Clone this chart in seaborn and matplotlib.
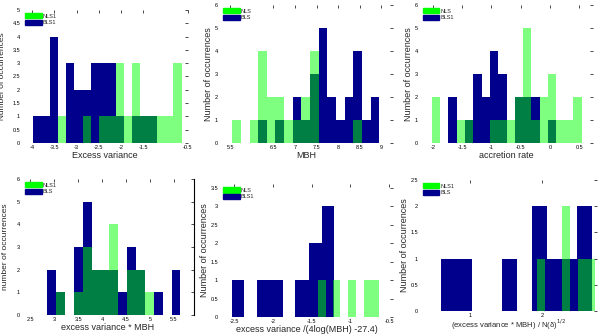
import numpy as np
import pandas as pd
import matplotlib
matplotlib.use("Agg")
import matplotlib.pyplot as plt
import seaborn as sns
from matplotlib.patches import Patch

sns.set_theme(style="white")
plt.rcParams["font.family"] = ["Liberation Sans", "DejaVu Sans"]

NAVY = (0.0, 0.0, 0.55)
GREEN = (0.0, 1.0, 0.0)

# panel 1: excess variance
p1_edges = [-3.97, -3.79, -3.60, -3.42, -3.23, -3.05, -2.86, -2.68, -2.49, -2.31,
            -2.12, -1.94, -1.75, -1.57, -1.38, -1.20, -1.01, -0.83, -0.64]
p1_blue = [1, 1, 4, 0, 3, 2, 2, 3, 3, 3, 1, 0, 1, 1, 1, 0, 0, 0]
p1_green = [0, 0, 0, 1, 0, 0, 1, 0, 1, 1, 3, 1, 3, 1, 1, 1, 1, 3]

# panel 2: MBH
p2_edges = [5.55, 5.75, 5.95, 6.15, 6.35, 6.55, 6.75, 6.95, 7.15, 7.35,
            7.55, 7.75, 7.95, 8.15, 8.35, 8.55, 8.75, 8.95]
p2_blue = [0, 0, 0, 1, 0, 1, 0, 2, 1, 3, 5, 2, 1, 2, 4, 1, 2]
p2_green = [1, 0, 1, 4, 2, 2, 1, 1, 2, 4, 0, 0, 0, 0, 1, 0, 0]

# panel 3: accretion rate
p3_edges = [-2.02, -1.88, -1.74, -1.59, -1.45, -1.31, -1.17, -1.03, -0.88, -0.74,
            -0.60, -0.46, -0.32, -0.17, -0.03, 0.11, 0.25, 0.39, 0.54]
p3_blue = [0, 0, 2, 0, 1, 3, 2, 4, 3, 0, 2, 2, 2, 0, 1, 0, 0, 0]
p3_green = [2, 0, 0, 1, 1, 0, 0, 1, 1, 1, 2, 5, 1, 2, 3, 1, 1, 2]

# panel 4: excess variance * MBH
p4_edges = [2.85, 3.04, 3.22, 3.41, 3.60, 3.78, 3.97, 4.15, 4.34, 4.53,
            4.71, 4.90, 5.08, 5.27, 5.46, 5.64]
p4_blue = [2, 1, 0, 3, 5, 2, 2, 2, 1, 3, 2, 0, 1, 0, 2]
p4_green = [0, 1, 0, 1, 3, 2, 2, 4, 0, 2, 2, 1, 0, 0, 0]

# panel 5: excess variance / (4 log MBH - 27.4)
p5_blue_edges = [-2.53, -2.37, -2.20, -2.04, -1.87, -1.71, -1.54, -1.37, -1.21]
p5_blue = [1, 0, 1, 1, 0, 1, 2, 3]
p5_green_edges = [-1.42, -1.32, -1.22, -1.13, -1.03, -0.93, -0.83, -0.73, -0.63]
p5_green = [1, 0, 1, 0, 1, 0, 1, 1]

# panel 6: (excess variance * MBH) / N^1/2
p6_blue_edges = [0.60, 0.81, 1.02, 1.23, 1.44, 1.65, 1.86, 2.07, 2.28, 2.49, 2.70]
p6_blue = [1, 1, 0, 0, 1, 0, 2, 1, 1, 2]
p6_green_edges = [1.93, 2.05, 2.16, 2.28, 2.40, 2.51, 2.63, 2.74]
p6_green = [1, 0, 0, 2, 0, 1, 1]

panels = [
    dict(pos=[0.037, 0.572, 0.276, 0.398], be=p1_edges, b=p1_blue, ge=p1_edges, g=p1_green,
         xlim=(-4.22, -0.5), ylim=(0, 5), xt=[-4, -3.5, -3, -2.5, -2, -1.5, -0.5],
         yt=np.arange(0, 5.01, 0.5), xl="Excess variance", yl="Number of occurrences",
         leg=("NLS1", "BLS1"), ylx=-0.095, xly=None, ylfs=6),
    dict(pos=[0.367, 0.572, 0.288, 0.413], be=p2_edges, b=p2_blue, ge=p2_edges, g=p2_green,
         xlim=(5.27, 9.27), ylim=(0, 6), xt=[5.5, 6.5, 7, 7.5, 8, 8.5, 9],
         yt=range(7), xl="MBH", yl="Number of occurrences", leg=("NLS", "BLS"),
         ylx=None, xly=None, ylfs=6.5),
    dict(pos=[0.700, 0.572, 0.288, 0.413], be=p3_edges, b=p3_blue, ge=p3_edges, g=p3_green,
         xlim=(-2.22, 0.73), ylim=(0, 6), xt=[-2, -1.5, -1, -0.5, 0, 0.5],
         yt=range(7), xl="accretion rate", yl="Number of occurrences", leg=("NLS", "BLS1"),
         ylx=None, xly=None, ylfs=6.5),
    dict(pos=[0.037, 0.057, 0.286, 0.407], be=p4_edges, b=p4_blue, ge=p4_edges, g=p4_green,
         xlim=(2.33, 5.92), ylim=(0, 6), xt=[2.5, 3, 3.5, 4, 4.5, 5, 5.5],
         yt=range(7), xl="excess variance * MBH", yl="number of occurrences",
         leg=("NLS1", "BLS"), ylx=-0.075, xly=None, ylfs=6),
    dict(pos=[0.367, 0.051, 0.288, 0.398], be=p5_blue_edges, b=p5_blue, ge=p5_green_edges,
         g=p5_green, xlim=(-2.68, -0.45), ylim=(0, 3.6), xt=[-2.5, -2, -1.5, -1, -0.5],
         yt=np.arange(0, 3.51, 0.5), xl="excess variance /(4log(MBH) -27.4)",
         yl="Number of occurrences", leg=("NLS", "BLS1"), ylx=None, xly=None, ylfs=6.5),
    dict(pos=[0.700, 0.069, 0.295, 0.392], be=p6_blue_edges, b=p6_blue, ge=p6_green_edges,
         g=p6_green, xlim=(0.30, 2.77), ylim=(0, 2.5), xt=[1, 2],
         yt=np.arange(0, 2.51, 0.5), xl="(excess variance * MBH) / N(δ)$^{1/2}$",
         yl="Number of occurrences", leg=("NLS1", "BLS"), ylx=None, xly=-0.05, ylfs=6.5),
]


def binned(edges, counts):
    e = np.array(edges)
    return pd.DataFrame({"x": (e[:-1] + e[1:]) / 2, "w": counts})


fig = plt.figure(figsize=(6, 3.34), dpi=100)

for i, p in enumerate(panels):
    ax = fig.add_axes(p["pos"])
    sns.histplot(data=binned(p["be"], p["b"]), x="x", weights="w", bins=p["be"],
                 color=NAVY, alpha=1, linewidth=0, ax=ax)
    sns.histplot(data=binned(p["ge"], p["g"]), x="x", weights="w", bins=p["ge"],
                 color=GREEN, alpha=0.5, linewidth=0, ax=ax)
    ax.set_xlim(p["xlim"])
    ax.set_ylim(p["ylim"])
    ax.set_xticks(p["xt"])
    ax.set_yticks(list(p["yt"]))
    ax.set_xticklabels([f"{v:g}" for v in p["xt"]])
    ax.set_yticklabels([f"{v:g}" for v in p["yt"]])
    ax.tick_params(direction="in", length=2, width=0.5, labelsize=4, pad=1.5,
                   top=True, right=True, colors="black")
    for s in ax.spines.values():
        s.set_visible(False)
    if i == 3:
        ax.spines["right"].set_visible(True)
        ax.spines["right"].set_color("black")
        ax.spines["right"].set_linewidth(0.8)
    ax.set_xlabel(p["xl"], fontsize=6.5 if i != 5 else 5.5, labelpad=1)
    ax.set_ylabel(p["yl"], fontsize=p["ylfs"], labelpad=1)
    if p["ylx"] is not None:
        ax.yaxis.set_label_coords(p["ylx"], 0.5)
    if p["xly"] is not None:
        ax.xaxis.set_label_coords(0.5, p["xly"])
    handles = [Patch(color=GREEN), Patch(color=NAVY)]
    ax.legend(handles, p["leg"], loc="upper left", fontsize=4, frameon=False,
              handlelength=3, handleheight=1.2, handletextpad=0.2, labelspacing=0.2,
              borderaxespad=0.3, borderpad=0.2)

fig.savefig("out.png", dpi=100)
